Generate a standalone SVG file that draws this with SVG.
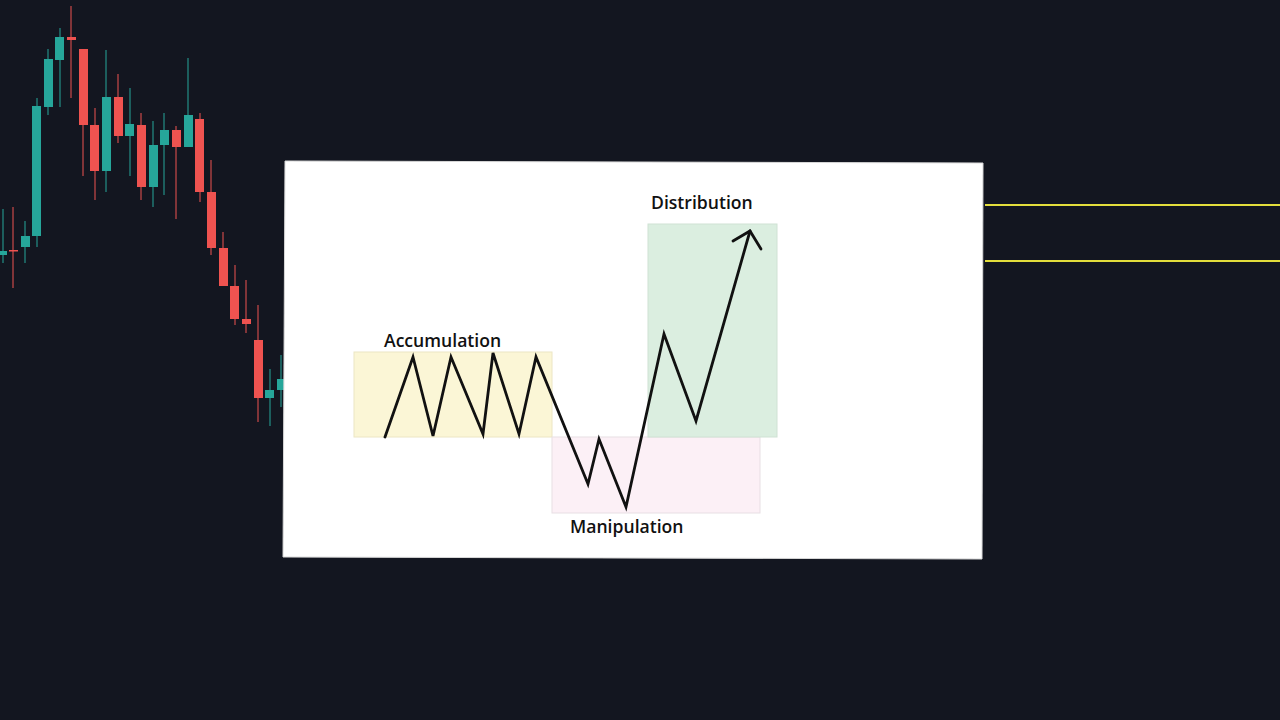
<svg xmlns="http://www.w3.org/2000/svg" width="1280" height="720" viewBox="0 0 1280 720">
<style>
.g{fill:#26a69a;stroke:#26a69a}
.r{fill:#ef5350;stroke:#ef5350}
.w{stroke-width:1}
.lbl{font-family:"Open Sans","Liberation Sans",sans-serif;font-weight:600;font-size:17.6px;fill:#111}
.zz{fill:none;stroke:#111;stroke-width:2.8;stroke-linejoin:miter;stroke-linecap:round}
</style>
<rect width="1280" height="720" fill="#131620"/>
<g id="candles">
<g class="g"><line x1="3" y1="209" x2="3" y2="263" class="w"/><rect x="-2" y="251" width="9" height="4" stroke="none"/></g>
<g class="r"><line x1="13" y1="207" x2="13" y2="288" class="w"/><rect x="9" y="250" width="9" height="1.5" stroke="none"/></g>
<g class="g"><line x1="25" y1="221" x2="25" y2="263" class="w"/><rect x="21" y="236" width="9" height="11" stroke="none"/></g>
<g class="g"><line x1="37" y1="98" x2="37" y2="247" class="w"/><rect x="32" y="106" width="9" height="130" stroke="none"/></g>
<g class="g"><line x1="48" y1="49" x2="48" y2="115" class="w"/><rect x="44" y="59" width="9" height="48" stroke="none"/></g>
<g class="g"><line x1="60" y1="28" x2="60" y2="107" class="w"/><rect x="55" y="37" width="9" height="23" stroke="none"/></g>
<g class="r"><line x1="71" y1="6" x2="71" y2="98" class="w"/><rect x="67" y="37" width="9" height="3" stroke="none"/></g>
<g class="r"><line x1="83" y1="49" x2="83" y2="176" class="w"/><rect x="79" y="49" width="9" height="76" stroke="none"/></g>
<g class="r"><line x1="95" y1="108" x2="95" y2="200" class="w"/><rect x="90" y="125" width="9" height="46" stroke="none"/></g>
<g class="g"><line x1="106" y1="50" x2="106" y2="192" class="w"/><rect x="102" y="97" width="9" height="74" stroke="none"/></g>
<g class="r"><line x1="118" y1="74" x2="118" y2="143" class="w"/><rect x="114" y="97" width="9" height="39" stroke="none"/></g>
<g class="g"><line x1="130" y1="88" x2="130" y2="176" class="w"/><rect x="125" y="124" width="9" height="12" stroke="none"/></g>
<g class="r"><line x1="141" y1="113" x2="141" y2="200" class="w"/><rect x="137" y="125" width="9" height="62" stroke="none"/></g>
<g class="g"><line x1="153" y1="121" x2="153" y2="207" class="w"/><rect x="149" y="145" width="9" height="42" stroke="none"/></g>
<g class="g"><line x1="164" y1="113" x2="164" y2="195" class="w"/><rect x="160" y="130" width="9" height="15" stroke="none"/></g>
<g class="r"><line x1="176" y1="126" x2="176" y2="219" class="w"/><rect x="172" y="130" width="9" height="17" stroke="none"/></g>
<g class="g"><line x1="188" y1="58" x2="188" y2="147" class="w"/><rect x="184" y="115" width="9" height="32" stroke="none"/></g>
<g class="r"><line x1="200" y1="113" x2="200" y2="202" class="w"/><rect x="195" y="119" width="9" height="73" stroke="none"/></g>
<g class="r"><line x1="211" y1="160" x2="211" y2="255" class="w"/><rect x="207" y="192" width="9" height="56" stroke="none"/></g>
<g class="r"><line x1="223" y1="232" x2="223" y2="286" class="w"/><rect x="219" y="248" width="9" height="38" stroke="none"/></g>
<g class="r"><line x1="235" y1="265" x2="235" y2="325" class="w"/><rect x="230" y="286" width="9" height="33" stroke="none"/></g>
<g class="r"><line x1="246" y1="280" x2="246" y2="333" class="w"/><rect x="242" y="319" width="9" height="5" stroke="none"/></g>
<g class="r"><line x1="258" y1="305" x2="258" y2="422" class="w"/><rect x="254" y="340" width="9" height="58" stroke="none"/></g>
<g class="g"><line x1="270" y1="369" x2="270" y2="426" class="w"/><rect x="265" y="390" width="9" height="8" stroke="none"/></g>
<g class="g"><line x1="281" y1="355" x2="281" y2="407" class="w"/><rect x="277" y="379" width="9" height="11" stroke="none"/></g>
</g>
<g id="levels" stroke="#e3de3c" stroke-width="2">
<line x1="985" y1="205" x2="1280" y2="205"/>
<line x1="985" y1="261" x2="1280" y2="261"/>
</g>
<g id="card">
<polygon points="285,161 983,163 982,559 283,557" fill="#ffffff" stroke="#d8d8d8" stroke-width="1"/>
</g>
<g id="accumulation">
<rect x="354" y="352" width="198" height="85" fill="#fbf6d6" stroke="#ece6c4" stroke-width="1"/>
<text class="lbl" x="384" y="347">Accumulation</text>
</g>
<g id="manipulation">
<rect x="552" y="437" width="208" height="76" fill="#fcf0f6" stroke="#e8dfe4" stroke-width="1"/>
<text class="lbl" x="570" y="533">Manipulation</text>
</g>
<g id="distribution">
<rect x="648" y="224" width="129" height="213" fill="#dbeee0" stroke="#cfe2d4" stroke-width="1"/>
<text class="lbl" x="651" y="209">Distribution</text>
</g>
<g id="connectors">
<polyline class="zz" points="385,437 413,357 433,436 451,357 483,434 493,353 519,434 536,357 588,484 599,439 626,507 664,334 696,421 750,231"/>
<polyline class="zz" points="733,241 750,231 761,249"/>
</g>
</svg>
